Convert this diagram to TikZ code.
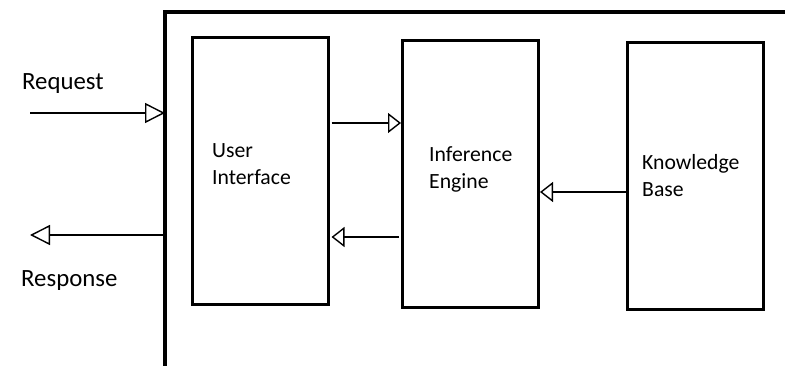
\documentclass[tikz,border=0pt]{standalone}
\usepackage{fontspec}
\setmainfont{Carlito}
\usetikzlibrary{arrows.meta}
\begin{document}
\begin{tikzpicture}[x=1pt,y=-1pt,
  box/.style={draw, line width=3pt, minimum width=#1, minimum height=267pt, inner sep=0pt},
  box/.default=136pt,
  lbl/.style={anchor=west, align=left, inner sep=0pt, font=\fontsize{21.7}{27}\selectfont},
  olbl/.style={anchor=west, inner sep=0pt, font=\fontsize{24.8}{30}\selectfont},
  arr/.style={line width=1.4pt, -{Triangle[open, length=13pt, width=20pt, line width=1.4pt]}},
  arrbig/.style={line width=1.4pt, -{Triangle[open, length=20pt, width=20pt, line width=1.4pt]}}]
\useasboundingbox (0,0) rectangle (785,366);
% outer frame
\coordinate (fb) at (165,366);
\coordinate (ftl) at (165,12);
\coordinate (fr) at (785,12);
\draw[line width=4pt] (fb) -- (ftl) -- (fr);
% boxes
\node[box] (ui) at (260,171.5) {};
\node[box] (ie) at (470.5,174) {};
\node[box] (kb) at (695,176) {};
% labels
\node[lbl] (tui) at (212,164) {User\\Interface};
\node[lbl] (tie) at (429,169) {Inference\\Engine};
\node[lbl] (tkb) at (642,176) {Knowledge\\Base};
\node[olbl] (treq) at (22,84) {Request};
\node[olbl] (tres) at (21,281) {Response};
% connectors
\coordinate (reqs) at (30,113);
\coordinate (y1) at (0,123);
\coordinate (y2) at (0,237);
\coordinate (y3) at (0,192);
\coordinate (ress) at (30,235);
\draw[arrbig] (reqs) -- (ftl |- reqs);
\draw[arrbig] (ftl |- ress) -- (ress);
\draw[arr] ([xshift=2pt]ui.east |- y1) -- (ie.west |- y1);
\draw[arr] ([xshift=-2pt]ie.west |- y2) -- ([xshift=2pt]ui.east |- y2);
\draw[arr] (kb.west |- y3) -- (ie.east |- y3);
\end{tikzpicture}
\end{document}
